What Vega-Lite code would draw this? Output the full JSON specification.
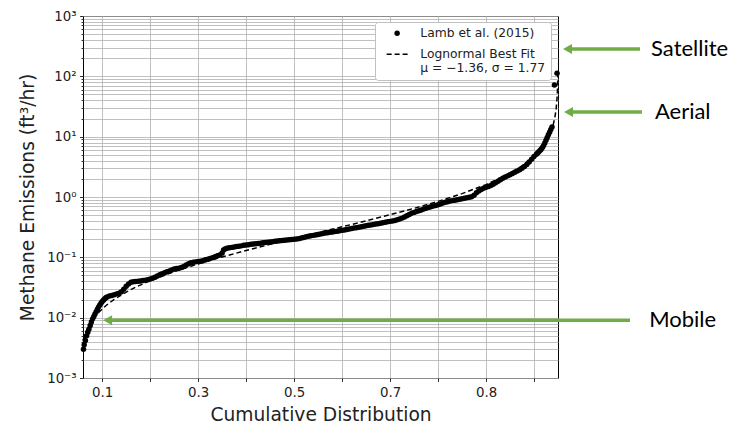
{
  "$schema": "https://vega.github.io/schema/vega-lite/v6.json",
  "width": 475,
  "height": 362,
  "autosize": {"type": "none"},
  "padding": {"left": 83, "top": 16, "right": 183, "bottom": 48},
  "background": "white",
  "config": {
    "view": {"stroke": "black", "strokeWidth": 1},
    "font": "DejaVu Sans",
    "axisX": {"labelFontSize": 13.33, "labelColor": "#222", "labelPadding": 3.5, "tickSize": 3.5, "tickColor": "black", "tickWidth": 0.8, "gridColor": "#b0b0b0", "gridWidth": 0.8, "domain": false, "titleFontSize": 18.67, "titleFontWeight": "normal", "titleColor": "#222", "titlePadding": 7}
  },
  "datasets": {
    "pts": [
      {"p":0.011,"v":0.0030},{"p":0.0125,"v":0.00355},{"p":0.015,"v":0.00417},{"p":0.0175,"v":0.00501},{"p":0.02,"v":0.00575},{"p":0.0225,"v":0.00646},{"p":0.025,"v":0.00741},{"p":0.0275,"v":0.00851},{"p":0.03,"v":0.00955},{"p":0.0325,"v":0.01047},{"p":0.035,"v":0.01148},{"p":0.0375,"v":0.01259},{"p":0.04,"v":0.0138},{"p":0.0425,"v":0.0151},{"p":0.045,"v":0.0162},{"p":0.0475,"v":0.0174},{"p":0.05,"v":0.0186},{"p":0.0525,"v":0.0195},{"p":0.055,"v":0.0204},{"p":0.0575,"v":0.0214},{"p":0.06,"v":0.0221},{"p":0.065,"v":0.0229},{"p":0.07,"v":0.0234},{"p":0.075,"v":0.024},{"p":0.08,"v":0.0248},{"p":0.085,"v":0.0254},{"p":0.09,"v":0.0269},{"p":0.095,"v":0.0295},{"p":0.1,"v":0.0331},{"p":0.105,"v":0.0363},{"p":0.11,"v":0.0385},{"p":0.115,"v":0.0394},{"p":0.12,"v":0.0398},{"p":0.125,"v":0.0403},{"p":0.13,"v":0.0407},{"p":0.135,"v":0.0412},{"p":0.14,"v":0.0417},{"p":0.145,"v":0.0427},{"p":0.15,"v":0.0437},{"p":0.155,"v":0.0452},{"p":0.16,"v":0.0468},{"p":0.165,"v":0.049},{"p":0.17,"v":0.0513},{"p":0.175,"v":0.0537},{"p":0.18,"v":0.0556},{"p":0.185,"v":0.0575},{"p":0.19,"v":0.0596},{"p":0.195,"v":0.0617},{"p":0.2,"v":0.0638},{"p":0.205,"v":0.0653},{"p":0.21,"v":0.0661},{"p":0.215,"v":0.0676},{"p":0.22,"v":0.0708},{"p":0.225,"v":0.075},{"p":0.23,"v":0.0785},{"p":0.235,"v":0.0813},{"p":0.24,"v":0.0832},{"p":0.245,"v":0.0841},{"p":0.25,"v":0.0851},{"p":0.255,"v":0.0861},{"p":0.26,"v":0.0881},{"p":0.265,"v":0.0912},{"p":0.27,"v":0.0933},{"p":0.275,"v":0.0955},{"p":0.28,"v":0.0989},{"p":0.285,"v":0.1023},{"p":0.29,"v":0.1059},{"p":0.295,"v":0.1096},{"p":0.3,"v":0.1175},{"p":0.303,"v":0.1318},{"p":0.306,"v":0.138},{"p":0.31,"v":0.1413},{"p":0.315,"v":0.1445},{"p":0.32,"v":0.1462},{"p":0.325,"v":0.1479},{"p":0.33,"v":0.1514},{"p":0.335,"v":0.1531},{"p":0.34,"v":0.1549},{"p":0.345,"v":0.1585},{"p":0.35,"v":0.1603},{"p":0.355,"v":0.1622},{"p":0.36,"v":0.1641},{"p":0.365,"v":0.166},{"p":0.37,"v":0.1679},{"p":0.375,"v":0.1698},{"p":0.38,"v":0.1718},{"p":0.385,"v":0.1738},{"p":0.39,"v":0.1758},{"p":0.395,"v":0.1778},{"p":0.4,"v":0.1799},{"p":0.405,"v":0.182},{"p":0.41,"v":0.1841},{"p":0.415,"v":0.1862},{"p":0.42,"v":0.1875},{"p":0.425,"v":0.1897},{"p":0.43,"v":0.1914},{"p":0.435,"v":0.1932},{"p":0.44,"v":0.195},{"p":0.445,"v":0.1968},{"p":0.45,"v":0.1995},{"p":0.455,"v":0.2018},{"p":0.46,"v":0.2042},{"p":0.465,"v":0.2089},{"p":0.47,"v":0.2138},{"p":0.475,"v":0.2188},{"p":0.48,"v":0.2239},{"p":0.485,"v":0.2275},{"p":0.49,"v":0.2312},{"p":0.495,"v":0.2355},{"p":0.5,"v":0.2399},{"p":0.505,"v":0.2443},{"p":0.51,"v":0.2483},{"p":0.515,"v":0.2523},{"p":0.52,"v":0.2559},{"p":0.525,"v":0.2594},{"p":0.53,"v":0.263},{"p":0.535,"v":0.2673},{"p":0.54,"v":0.2716},{"p":0.545,"v":0.2754},{"p":0.55,"v":0.2799},{"p":0.555,"v":0.2844},{"p":0.56,"v":0.2897},{"p":0.565,"v":0.2951},{"p":0.57,"v":0.3006},{"p":0.575,"v":0.3055},{"p":0.58,"v":0.3105},{"p":0.585,"v":0.3162},{"p":0.59,"v":0.3221},{"p":0.595,"v":0.3273},{"p":0.6,"v":0.3327},{"p":0.605,"v":0.3388},{"p":0.61,"v":0.3443},{"p":0.615,"v":0.3499},{"p":0.62,"v":0.3556},{"p":0.625,"v":0.3614},{"p":0.63,"v":0.3673},{"p":0.635,"v":0.3733},{"p":0.64,"v":0.3802},{"p":0.645,"v":0.3873},{"p":0.65,"v":0.3945},{"p":0.655,"v":0.4018},{"p":0.66,"v":0.4093},{"p":0.665,"v":0.4188},{"p":0.67,"v":0.4305},{"p":0.675,"v":0.4467},{"p":0.68,"v":0.4677},{"p":0.685,"v":0.4898},{"p":0.69,"v":0.5129},{"p":0.695,"v":0.537},{"p":0.7,"v":0.5559},{"p":0.705,"v":0.5754},{"p":0.71,"v":0.5916},{"p":0.715,"v":0.6095},{"p":0.72,"v":0.631},{"p":0.725,"v":0.6531},{"p":0.73,"v":0.673},{"p":0.735,"v":0.6918},{"p":0.74,"v":0.7079},{"p":0.745,"v":0.7244},{"p":0.75,"v":0.7447},{"p":0.755,"v":0.7674},{"p":0.76,"v":0.7943},{"p":0.765,"v":0.8166},{"p":0.77,"v":0.8356},{"p":0.775,"v":0.8551},{"p":0.78,"v":0.871},{"p":0.785,"v":0.8872},{"p":0.79,"v":0.9016},{"p":0.795,"v":0.9162},{"p":0.8,"v":0.9333},{"p":0.805,"v":0.9506},{"p":0.81,"v":0.9683},{"p":0.815,"v":0.9886},{"p":0.82,"v":1.0116},{"p":0.825,"v":1.0715},{"p":0.83,"v":1.175},{"p":0.835,"v":1.259},{"p":0.84,"v":1.334},{"p":0.845,"v":1.396},{"p":0.85,"v":1.445},{"p":0.855,"v":1.496},{"p":0.86,"v":1.549},{"p":0.865,"v":1.622},{"p":0.87,"v":1.718},{"p":0.875,"v":1.82},{"p":0.88,"v":1.928},{"p":0.885,"v":2.042},{"p":0.89,"v":2.138},{"p":0.895,"v":2.239},{"p":0.9,"v":2.344},{"p":0.905,"v":2.455},{"p":0.91,"v":2.57},{"p":0.915,"v":2.692},{"p":0.92,"v":2.818},{"p":0.925,"v":2.985},{"p":0.93,"v":3.199},{"p":0.935,"v":3.467},{"p":0.94,"v":3.802},{"p":0.945,"v":4.217},{"p":0.95,"v":4.677},{"p":0.955,"v":5.129},{"p":0.9575,"v":5.37},{"p":0.96,"v":5.623},{"p":0.9625,"v":5.888},{"p":0.965,"v":6.166},{"p":0.9675,"v":6.607},{"p":0.97,"v":7.161},{"p":0.9725,"v":7.852},{"p":0.975,"v":8.71},{"p":0.9775,"v":9.66},{"p":0.98,"v":10.72},{"p":0.9825,"v":11.89},{"p":0.985,"v":13.18},{"p":0.9875,"v":14.45},{"p":0.9925,"v":72},{"p":0.998,"v":113}
    ],
    "fit": [
      {"p":0.01,"v":0.00418},{"p":0.015,"v":0.00551},{"p":0.02,"v":0.00677},{"p":0.03,"v":0.0092},{"p":0.04,"v":0.01157},{"p":0.05,"v":0.01396},{"p":0.06,"v":0.01637},{"p":0.075,"v":0.02006},{"p":0.1,"v":0.02657},{"p":0.12,"v":0.0321},{"p":0.15,"v":0.041},{"p":0.2,"v":0.0578},{"p":0.25,"v":0.0778},{"p":0.3,"v":0.1015},{"p":0.35,"v":0.1298},{"p":0.4,"v":0.164},{"p":0.45,"v":0.2055},{"p":0.5,"v":0.2567},{"p":0.55,"v":0.3206},{"p":0.6,"v":0.4019},{"p":0.65,"v":0.5077},{"p":0.7,"v":0.649},{"p":0.75,"v":0.847},{"p":0.8,"v":1.139},{"p":0.85,"v":1.606},{"p":0.9,"v":2.479},{"p":0.925,"v":3.28},{"p":0.95,"v":4.716},{"p":0.96,"v":5.69},{"p":0.97,"v":7.16},{"p":0.98,"v":9.73},{"p":0.985,"v":11.95},{"p":0.99,"v":15.75},{"p":0.993,"v":19.87},{"p":0.996,"v":28.05},{"p":0.9985,"v":49.1},{"p":0.9993,"v":73.3},{"p":0.9997,"v":111.6}
    ],
    "ann": [
      {"name":"Satellite","tip":1.0104,"start":1.019,"tail":1.171,"level":284,"tx":1.194},
      {"name":"Aerial","tip":1.0125,"start":1.021,"tail":1.175,"level":25.6,"tx":1.202},
      {"name":"Mobile","tip":0.052,"start":0.06,"tail":1.15,"level":0.0091,"tx":1.19}
    ]
  },
  "layer": [
    {
      "data": {"name": "pts"},
      "mark": {"type": "point", "filled": true, "size": 30, "opacity": 1, "color": "black", "strokeWidth": 0},
      "encoding": {
        "x": {
          "field": "p", "type": "quantitative", "title": "Cumulative Distribution",
          "scale": {"domain": [0.01, 1.0], "nice": false, "zero": false},
          "axis": {
            "values": [1,0.95,0.9,0.85,0.8,0.75,0.7,0.65,0.6,0.55,0.5,0.45,0.4,0.35,0.3,0.25,0.2,0.15,0.1,0.05],
            "format": ".1f",
            "labelOverlap": "parity", "labelSeparation": 40, "labelFlush": false,
            "grid": true
          }
        },
        "y": {
          "field": "v", "type": "quantitative", "title": "Methane Emissions (ft³/hr)",
          "scale": {"type": "log", "domain": [0.001, 1000], "nice": false},
          "axis": {
            "values": [0.001,0.002,0.003,0.004,0.005,0.006,0.007,0.008,0.009,0.01,0.02,0.03,0.04,0.05,0.06,0.07,0.08,0.09,0.1,0.2,0.3,0.4,0.5,0.6,0.7,0.8,0.9,1,2,3,4,5,6,7,8,9,10,20,30,40,50,60,70,80,90,100,200,300,400,500,600,700,800,900,1000],
            "labelExpr": "datum.value == 1000 ? '10³' : datum.value == 100 ? '10²' : datum.value == 10 ? '10¹' : datum.value == 1 ? '10⁰' : datum.value == 0.1 ? '10⁻¹' : datum.value == 0.01 ? '10⁻²' : datum.value == 0.001 ? '10⁻³' : ''",
            "tickSize": {"condition": {"test": "indexof([0.001,0.01,0.1,1,10,100,1000], datum.value) >= 0", "value": 3.5}, "value": 2},
            "labelOverlap": false, "labelFlush": false,
            "grid": true, "gridColor": "#b0b0b0", "gridWidth": 0.8,
            "domain": false, "tickColor": "black", "tickWidth": 0.8,
            "labelFontSize": 13.33, "labelColor": "#222", "labelPadding": 3.5,
            "titleFontSize": 18.67, "titleFontWeight": "normal", "titleColor": "#222", "titlePadding": 9
          }
        },
        "shape": {
          "datum": "Lamb et al. (2015)", "type": "nominal",
          "scale": {"domain": ["Lamb et al. (2015)", "Lognormal Best Fit"], "range": ["circle", "M-3.83,-0.27H-2V0.27H-3.83Z M-0.91,-0.27H0.91V0.27H-0.91Z M2,-0.27H3.83V0.27H2Z"]},
          "legend": {
            "orient": "none", "legendX": 292, "legendY": 6, "title": null,
            "fillColor": "white", "strokeColor": "#c0c0c0", "cornerRadius": 3, "padding": 5,
            "symbolSize": 30, "symbolOffset": 11, "symbolFillColor": "black", "symbolStrokeWidth": 0, "symbolOpacity": 1,
            "labelFont": "DejaVu Sans", "labelFontSize": 12.3, "labelColor": "#222", "labelLimit": 300,
            "rowPadding": 8, "labelOffset": 17,
            "labelExpr": "datum.label == 'Lognormal Best Fit' ? ['Lognormal Best Fit', '\u00a0μ = −1.36, σ = 1.77'] : datum.label",
            "encode": {
              "labels": {
                "lineHeight": {"value": 12},
                "dy": {"value": {"expr": "datum.label == 'Lognormal Best Fit' ? -9 : 0"}}
              }
            }
          }
        }
      }
    },
    {
      "data": {"name": "fit"},
      "mark": {"type": "line", "strokeDash": [5, 3], "strokeWidth": 1.5, "color": "black"},
      "encoding": {
        "x": {"field": "p", "type": "quantitative", "title": "Cumulative Distribution"},
        "y": {"field": "v", "type": "quantitative", "title": "Methane Emissions (ft³/hr)"}
      }
    },
    {
      "data": {"name": "ann"},
      "mark": {"type": "rule", "color": "#70AD47", "strokeWidth": 3.5},
      "encoding": {
        "x": {"field": "start", "type": "quantitative", "title": "Cumulative Distribution"},
        "x2": {"field": "tail"},
        "y": {"field": "level", "type": "quantitative", "title": "Methane Emissions (ft³/hr)"}
      }
    },
    {
      "data": {"name": "ann"},
      "mark": {"type": "point", "shape": "M0,0L1.8,-1L1.8,1Z", "filled": true, "size": 100, "color": "#70AD47", "opacity": 1, "strokeWidth": 0},
      "encoding": {
        "x": {"field": "tip", "type": "quantitative", "title": "Cumulative Distribution"},
        "y": {"field": "level", "type": "quantitative", "title": "Methane Emissions (ft³/hr)"}
      }
    },
    {
      "data": {"name": "ann"},
      "mark": {"type": "text", "font": "Lato", "fontSize": 22, "align": "left", "baseline": "middle", "color": "black"},
      "encoding": {
        "x": {"field": "tx", "type": "quantitative", "title": "Cumulative Distribution"},
        "y": {"field": "level", "type": "quantitative", "title": "Methane Emissions (ft³/hr)"},
        "text": {"field": "name"}
      }
    }
  ]
}
